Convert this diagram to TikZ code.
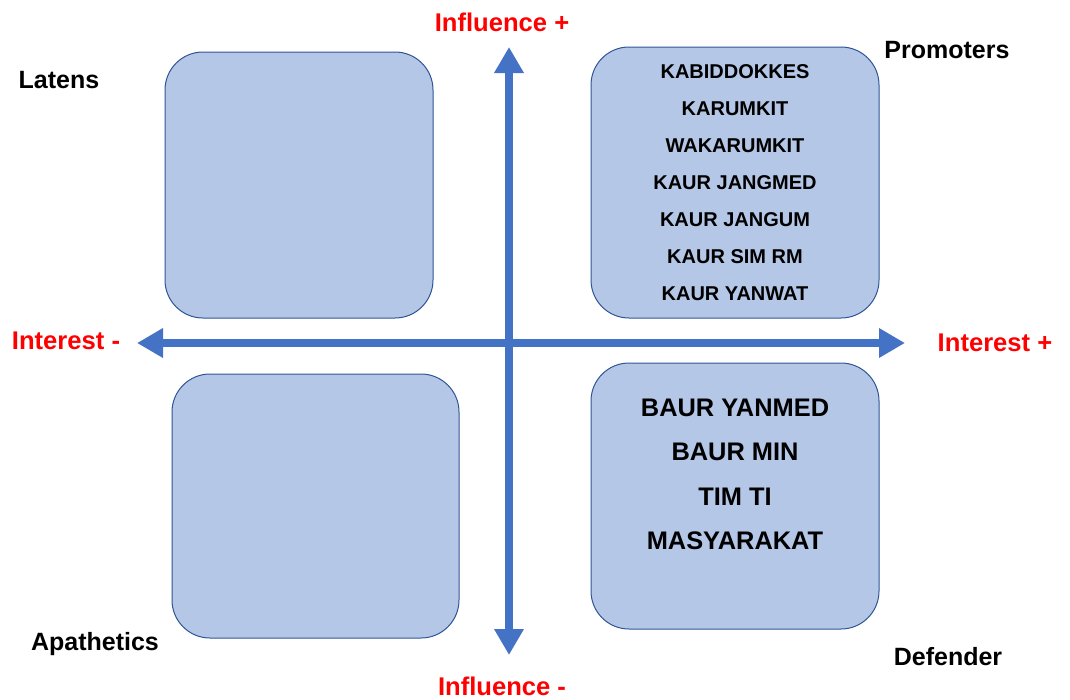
\documentclass[tikz,border=0pt]{standalone}
\usepackage{fontspec}
\setmainfont{Liberation Sans}
\usetikzlibrary{arrows.meta}

\tikzset{
  quadbox/.style={draw={rgb,255:red,47;green,85;blue,151}, fill={rgb,255:red,180;green,199;blue,231}, line width=1, rounded corners=38, inner sep=0},
  axisline/.style={draw={rgb,255:red,68;green,114;blue,196}, line width=8, {Triangle[length=26,width=28]}-{Triangle[length=26,width=28]}},
  axislabel/.style={text={rgb,255:red,255;green,0;blue,0}, font=\fontsize{25.6}{30}\selectfont\bfseries, inner sep=0.75},
  grouplabel/.style={font=\fontsize{25}{28}\selectfont\bfseries, inner sep=0.75}
}

\begin{document}
\begin{tikzpicture}[x=1pt,y=1pt,yscale=-1]
\useasboundingbox (0,0) rectangle (1070,699);

%Shape: Rounded Rectangle [id:latens]
\node [quadbox, minimum width=268, minimum height=266] (latensbox) at (299,185) {};
%Shape: Rounded Rectangle [id:promoters]
\node [quadbox, minimum width=288, minimum height=271] (promobox) at (735,182.5) {};
%Shape: Rounded Rectangle [id:apathetics]
\node [quadbox, minimum width=287, minimum height=264] (apathbox) at (315.5,506) {};
%Shape: Rounded Rectangle [id:defender]
\node [quadbox, minimum width=288, minimum height=266] (defendbox) at (735,496) {};

%Straight Lines [id:interest]
\coordinate (intleft) at (137,343);
\coordinate (intright) at (905,343);
\draw [axisline] (intleft) -- (intright);
%Straight Lines [id:influence]
\coordinate (inftop) at (509,47);
\coordinate (infbot) at (509,655);
\draw [axisline] (infbot) -- (inftop);

% Text Node
\node [align=center, font=\fontsize{20}{37}\selectfont\bfseries] (promolist) at (promobox.center) {KABIDDOKKES\\KARUMKIT\\WAKARUMKIT\\KAUR JANGMED\\KAUR JANGUM\\KAUR SIM RM\\KAUR YANWAT};
% Text Node
\node [align=center, font=\fontsize{25.4}{44.5}\selectfont\bfseries] (defendlist) at (735,474.5) {BAUR YANMED\\BAUR MIN\\TIM TI\\MASYARAKAT};

% Text Node
\node [axislabel] (infplus) at (502,22) {Influence +};
% Text Node
\node [axislabel] (infminus) at (502,686) {Influence -};
% Text Node
\node [axislabel] (intminus) at (66,341) {Interest -};
% Text Node
\node [axislabel] (intplus) at (995,343) {Interest +};
% Text Node
\node [grouplabel] (latens) at (59,80) {Latens};
% Text Node
\node [grouplabel] (promoters) at (947,50) {Promoters};
% Text Node
\node [grouplabel] (apathetics) at (95,644) {Apathetics};
% Text Node
\node [grouplabel] (defender) at (948,657) {Defender};

\end{tikzpicture}
\end{document}
